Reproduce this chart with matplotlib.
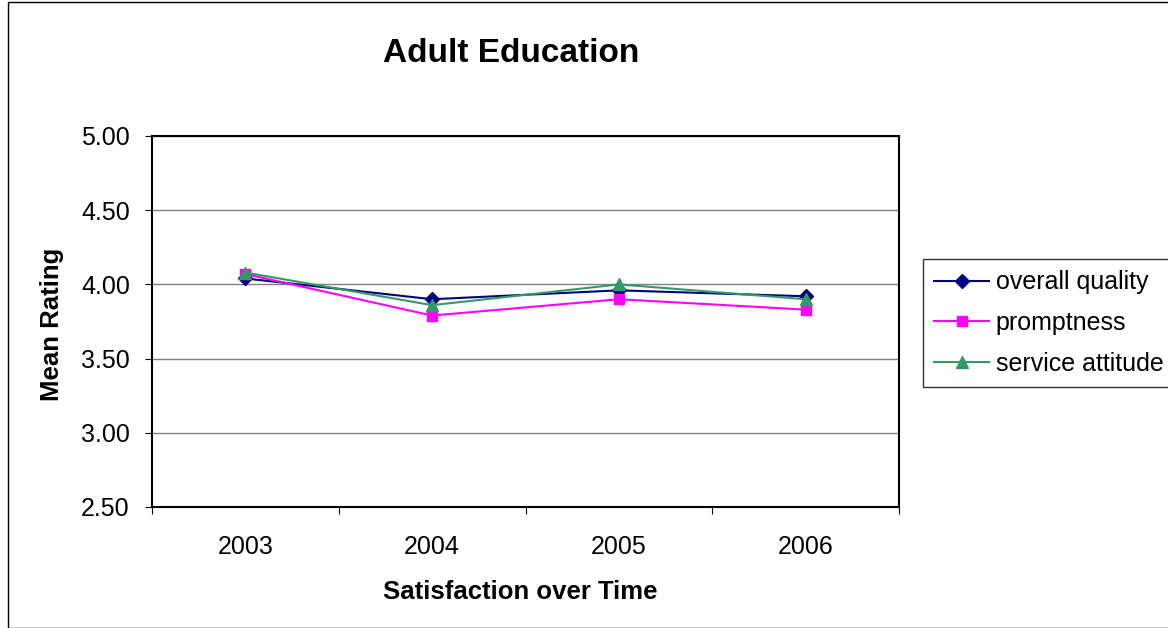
import matplotlib
matplotlib.use("Agg")
import matplotlib.pyplot as plt
from matplotlib.patches import Rectangle

plt.rcParams['font.family'] = ['Liberation Sans', 'DejaVu Sans']

years = ['2003', '2004', '2005', '2006']
overall_quality = [4.04, 3.90, 3.96, 3.92]
promptness = [4.07, 3.79, 3.90, 3.83]
service_attitude = [4.08, 3.86, 4.00, 3.90]
y_ticks = [2.50, 3.00, 3.50, 4.00, 4.50, 5.00]

W, H = 1168, 628
fig = plt.figure(figsize=(W / 100, H / 100), dpi=100)
fig.patches.append(Rectangle((8 / W, 0), 1.2, 1 - 2 / H, transform=fig.transFigure,
                             fill=False, edgecolor='black', linewidth=1.0))
ax = fig.add_axes([152 / W, 1 - 507 / H, (899 - 152) / W, (507 - 136) / H])

x = list(range(len(years)))
ax.plot(x, overall_quality, color='#000080', marker='D', markersize=7, linewidth=1.5, label='overall quality')
ax.plot(x, promptness, color='#FF00FF', marker='s', markersize=7, linewidth=1.5, label='promptness')
ax.plot(x, service_attitude, color='#339966', marker='^', markersize=8.5, linewidth=1.5, label='service attitude')

ax.set_xlim(-0.5, len(years) - 0.5)
ax.set_ylim(2.5, 5.0)
ax.set_yticks(y_ticks)
ax.set_yticklabels([f'{v:.2f}' for v in y_ticks])
ax.set_xticks([i - 0.5 for i in range(len(years) + 1)])
ax.set_xticklabels([])
ax.set_xticks(x, minor=True)
ax.set_xticklabels(years, minor=True)
ax.tick_params(axis='x', which='minor', length=0, labelsize=18, pad=20)
ax.tick_params(axis='x', which='major', length=5, direction='out')
ax.tick_params(axis='y', length=5, direction='out', labelsize=18, pad=11)
ax.yaxis.grid(True, color='#808080', linewidth=1.0)
ax.set_axisbelow(True)
for s in ax.spines.values():
    s.set_color('black')
    s.set_linewidth(1.5)

fig.text(52 / W, 1 - 324 / H, 'Mean Rating', fontsize=18.5, fontweight='bold', rotation=90,
         ha='center', va='center')
fig.text(520 / W, 1 - 592 / H, 'Satisfaction over Time', fontsize=18.5, fontweight='bold',
         ha='center', va='center')
fig.text(511 / W, 1 - 53 / H, 'Adult Education', fontsize=24, fontweight='bold', ha='center', va='center')

leg = ax.legend(loc='upper left', bbox_to_anchor=(923 / W, 1 - 259 / H), bbox_transform=fig.transFigure,
                fontsize=18, frameon=True, fancybox=False, edgecolor='black', borderpad=0.45,
                handlelength=2.2, handletextpad=0.25, labelspacing=0.67, borderaxespad=0)
leg.get_frame().set_linewidth(1.0)

fig.savefig('out.png', dpi=100)
